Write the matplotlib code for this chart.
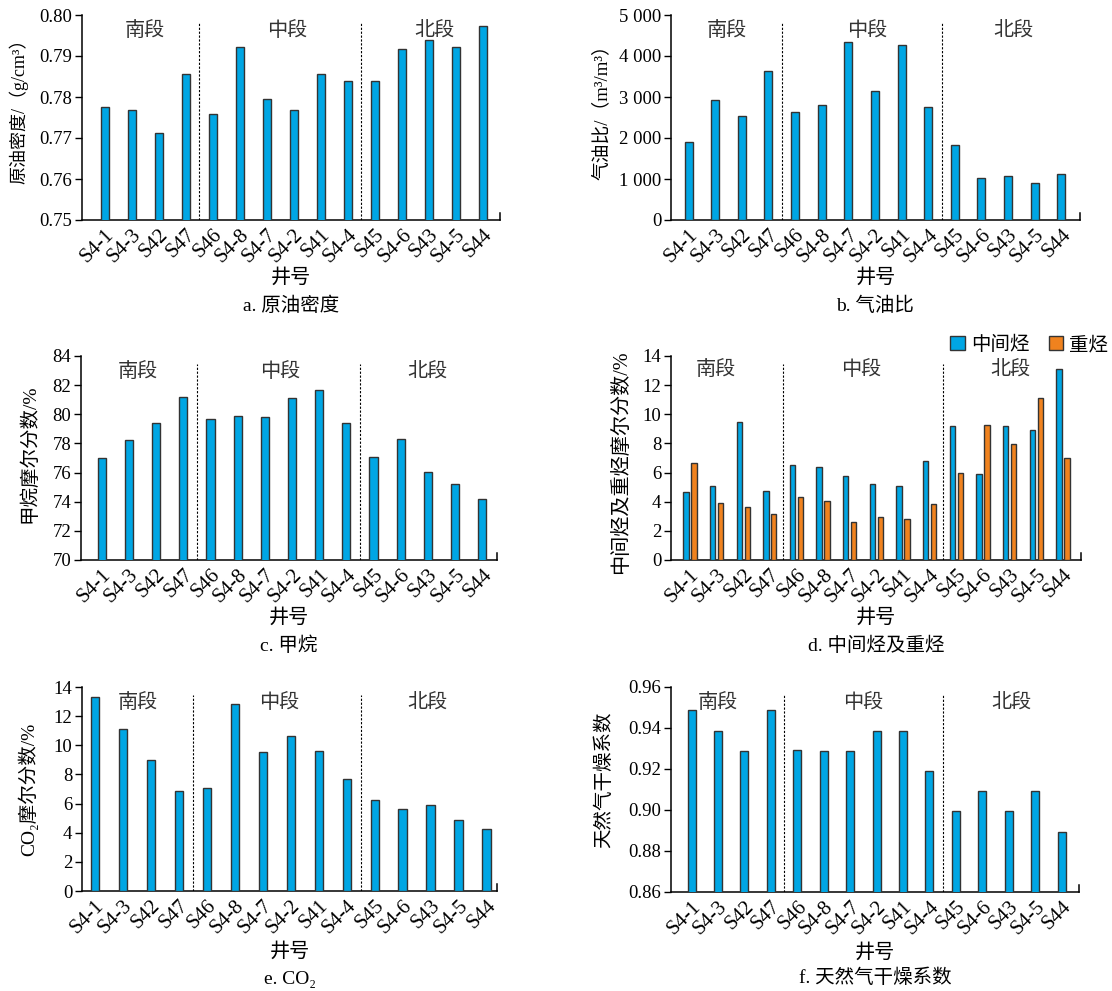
import matplotlib
matplotlib.use("Agg")
import matplotlib.pyplot as plt
import matplotlib.patches as mpatches
import numpy as np

plt.rcParams["font.family"] = ["Liberation Serif", "Noto Sans CJK SC"]
plt.rcParams["axes.unicode_minus"] = False

# --- data ---
wells = ["S4-1", "S4-3", "S42", "S47", "S46", "S4-8", "S4-7", "S4-2",
         "S41", "S4-4", "S45", "S4-6", "S43", "S4-5", "S44"]
sections = ["南段", "中段", "北段"]

density = [0.7776, 0.7768, 0.7713, 0.7856, 0.7758, 0.7922, 0.7795, 0.7768,
           0.7855, 0.7838, 0.7838, 0.7918, 0.7938, 0.7921, 0.7974]
gor = [1892, 2936, 2537, 3630, 2635, 2814, 4339, 3140,
       4258, 2765, 1819, 1028, 1077, 897, 1117]
methane = [77.03, 78.24, 79.38, 81.16, 79.70, 79.91, 79.84, 81.10,
           81.69, 79.43, 77.08, 78.33, 76.07, 75.23, 74.20]
intermediate = [4.70, 5.05, 9.50, 4.75, 6.51, 6.39, 5.75, 5.25,
                5.11, 6.78, 9.18, 5.89, 9.20, 8.93, 13.08]
heavy = [6.67, 3.90, 3.61, 3.15, 4.29, 4.04, 2.63, 2.95,
         2.79, 3.81, 6.00, 9.27, 7.99, 11.12, 7.03]
co2 = [13.29, 11.10, 9.02, 6.89, 7.07, 12.86, 9.54, 10.62,
       9.59, 7.69, 6.22, 5.61, 5.88, 4.90, 4.26]
dryness = [0.9487, 0.9386, 0.9290, 0.9490, 0.9292, 0.9290, 0.9290, 0.9386,
           0.9386, 0.9190, 0.8993, 0.9094, 0.8993, 0.9094, 0.8893]

BLUE = "#00a6e4"
ORANGE = "#f0821e"
EDGE = "#333333"

W, H = 1112, 991
fig = plt.figure(figsize=(W / 100, H / 100), dpi=100)


def px_axes(left, top, right, bottom):
    return fig.add_axes([left / W, 1 - bottom / H, (right - left) / W, (bottom - top) / H])


def style_axes(ax, xlim, ylim, yticks, fmt, ylabel, ylab_x, sec_x, caption,
               xlab_y=-0.285, cap_y=-0.42, sec_y=0.92, ylab_y=0.5, ylab_fs=14):
    ax.set_xlim(*xlim)
    ax.set_ylim(*ylim)
    ax.set_yticks(yticks)
    ax.set_yticklabels([fmt(v) for v in yticks], fontsize=13.5)
    ax.set_xticks(np.arange(len(wells)))
    ax.set_xticklabels(wells, rotation=45, ha="right", va="top",
                       rotation_mode="anchor", fontsize=15)
    ax.tick_params(axis="x", length=0, pad=4)
    ax.tick_params(axis="y", direction="out", length=5, width=1, pad=2)
    for s in ["top", "right"]:
        ax.spines[s].set_visible(False)
    for s in ["left", "bottom"]:
        ax.spines[s].set_linewidth(1.1)
    # small closing tick at right end of the x axis
    ax.plot([1, 1], [0, 0.035], transform=ax.transAxes, color="black",
            lw=1.1, clip_on=False)
    for xd in (3.5, 9.5):
        ax.axvline(xd, ymin=0, ymax=0.96, color="black", lw=0.8,
                   linestyle=(0, (2, 1.5)))
    for xs, name in zip(sec_x, sections):
        ax.text(xs, sec_y, name, transform=ax.get_xaxis_transform(),
                ha="center", va="center", fontsize=14.5, color="#333333")
    ax.set_ylabel(ylabel, fontsize=ylab_fs)
    ax.yaxis.set_label_coords(ylab_x, ylab_y)
    ax.text(0.5, xlab_y, "井号", transform=ax.transAxes, ha="center",
            va="center", fontsize=14.5)
    ax.text(0.5, cap_y, caption, transform=ax.transAxes, ha="center",
            va="center", fontsize=14)


x = np.arange(len(wells))

# a. crude oil density
ax_a = px_axes(82, 15, 500, 220)
ax_a.bar(x, density, width=0.3, color=BLUE, edgecolor=EDGE, lw=1, zorder=3)
style_axes(ax_a, (-0.85, 14.63), (0.75, 0.80), np.arange(0.75, 0.8001, 0.01),
           lambda v: f"{v:.2f}", "原油密度/（g/cm³）", -54 / 418,
           (1.46, 6.73, 12.19), "a. 原油密度", ylab_y=0.55, ylab_fs=13)

# b. gas-oil ratio
ax_b = px_axes(671, 15, 1080, 220)
ax_b.bar(x, gor, width=0.3, color=BLUE, edgecolor=EDGE, lw=1, zorder=3)
style_axes(ax_b, (-0.66, 14.7), (0, 5000), np.arange(0, 5001, 1000),
           lambda v: f"{int(v):,}".replace(",", " "), "气油比/（m³/m³）", -60 / 409,
           (1.43, 6.69, 12.2), "b. 气油比", ylab_y=0.55, ylab_fs=13.5)

# c. methane
ax_c = px_axes(81, 356, 497, 560)
ax_c.bar(x, methane, width=0.3, color=BLUE, edgecolor=EDGE, lw=1, zorder=3)
style_axes(ax_c, (-0.76, 14.54), (70, 84), np.arange(70, 85, 2),
           lambda v: f"{int(v)}", "甲烷摩尔分数/%", -43 / 416,
           (1.32, 6.56, 11.97), "c. 甲烷", ylab_y=0.52)

# d. intermediate and heavy hydrocarbons
ax_d = px_axes(671, 356, 1081, 560)
ax_d.bar(x - 0.15, intermediate, width=0.2, color=BLUE, edgecolor=EDGE, lw=1,
         zorder=3, label="中间烃")
ax_d.bar(x + 0.15, heavy, width=0.2, color=ORANGE, edgecolor=EDGE, lw=1,
         zorder=3, label="重烃")
style_axes(ax_d, (-0.71, 14.68), (0, 14), np.arange(0, 15, 2),
           lambda v: f"{int(v)}", "中间烃及重烃摩尔分数/%", -40 / 410,
           (0.98, 6.43, 12.03), "d. 中间烃及重烃", sec_y=0.93, ylab_y=0.48,
           ylab_fs=14.5)
handles = [mpatches.Patch(facecolor=BLUE, edgecolor=EDGE, label="中间烃"),
           mpatches.Patch(facecolor=ORANGE, edgecolor=EDGE, label="重烃")]
ax_d.legend(handles=handles, loc="lower right", bbox_to_anchor=(1.066, 1.01),
            ncol=2, frameon=False, fontsize=14, handlelength=0.75,
            handleheight=0.75, handletextpad=0.3, columnspacing=1.0,
            borderaxespad=0, borderpad=0)

# e. CO2
ax_e = px_axes(82, 687, 497, 891)
ax_e.bar(x, co2, width=0.3, color=BLUE, edgecolor=EDGE, lw=1, zorder=3)
style_axes(ax_e, (-0.46, 14.37), (0, 14), np.arange(0, 15, 2),
           lambda v: f"{int(v)}", "CO₂摩尔分数/%", -44 / 415,
           (1.52, 6.6, 11.87), "e. CO₂", xlab_y=-0.30, cap_y=-0.435)

# f. dryness coefficient
ax_f = px_axes(671, 687, 1079, 892)
ax_f.bar(x, dryness, width=0.3, color=BLUE, edgecolor=EDGE, lw=1, zorder=3)
style_axes(ax_f, (-0.78, 14.66), (0.86, 0.96), np.arange(0.86, 0.9601, 0.02),
           lambda v: f"{v:.2f}", "天然气干燥系数", -58 / 408,
           (1.0, 6.48, 12.12), "f. 天然气干燥系数", xlab_y=-0.30, cap_y=-0.42,
           ylab_y=0.55)

fig.savefig("out.png", dpi=100)
